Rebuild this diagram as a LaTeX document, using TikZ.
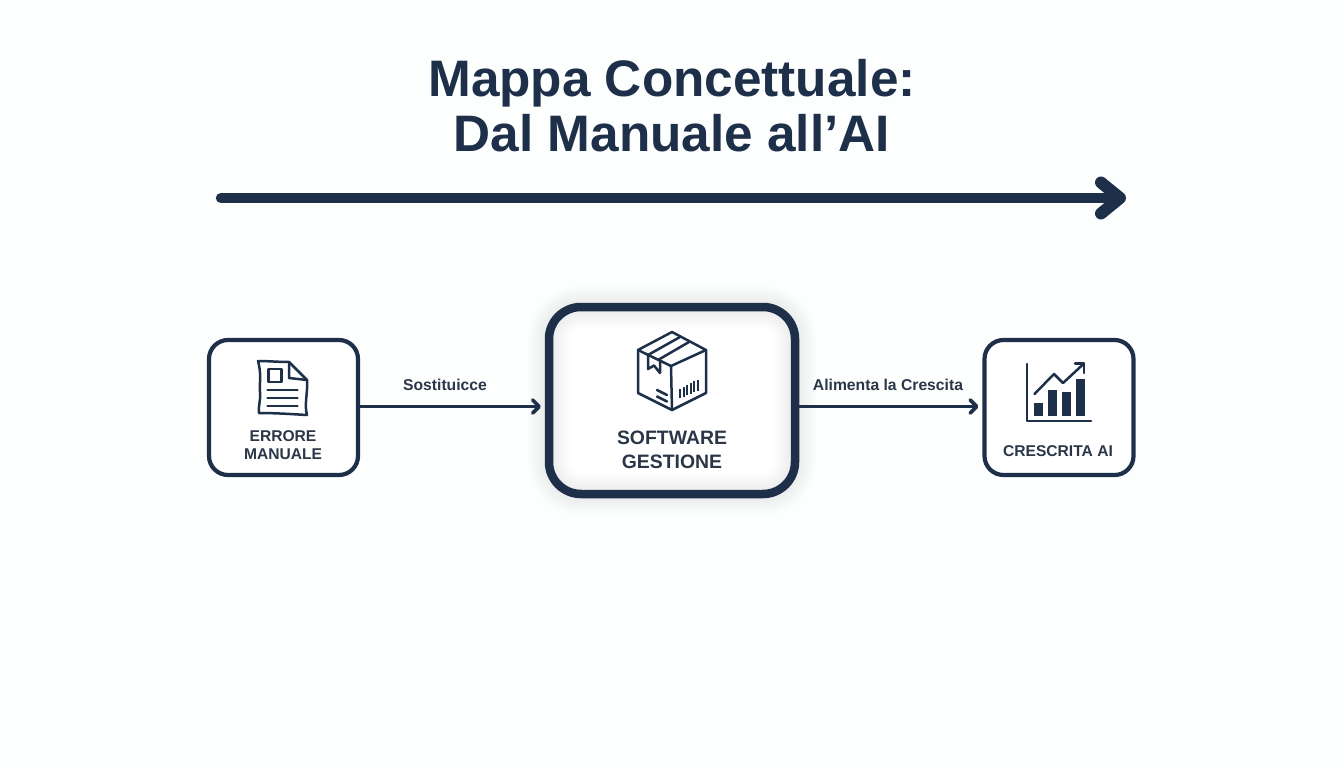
\documentclass[tikz,border=0pt]{standalone}
\usepackage{fontspec}
\setmainfont{Liberation Sans}
\usetikzlibrary{arrows.meta}
\definecolor{navy}{HTML}{1E2F4A}
\definecolor{ink}{HTML}{2B3749}
\definecolor{paper}{HTML}{FDFEFE}
\tikzset{
  sidebox/.style={draw=navy,line width=4.2pt,fill=white,rounded corners=19pt,minimum width=149pt,minimum height=135pt,inner sep=0pt,outer sep=0pt},
  mainbox/.style={draw=navy,line width=8.5pt,fill=white,rounded corners=32pt,minimum width=246pt,minimum height=187pt,inner sep=0pt,outer sep=0pt},
  boxlabel/.style={text=ink,font=\fontsize{15.6}{18}\selectfont\bfseries,align=center,inner sep=0pt},
  mainlabel/.style={text=ink,font=\fontsize{19.4}{24}\selectfont\bfseries,align=center,inner sep=0pt},
  linklabel/.style={text=ink,font=\fontsize{15.7}{18}\selectfont\bfseries,inner sep=0pt},
  titletext/.style={text=navy,font=\fontsize{51.3}{55}\selectfont\bfseries,align=center,inner sep=0pt},
  connector/.style={draw=navy,line width=3pt,-{Straight Barb[length=6.5pt,width=13pt,line width=3.6pt,round]}},
  bigarrow/.style={draw=navy,line width=10.5pt,line cap=round,-{Straight Barb[length=19pt,width=31pt,line width=12pt,round]}},
  iconline/.style={draw=navy,line width=2.5pt,line join=round,line cap=round},
  iconthin/.style={draw=navy,line width=2pt,line cap=butt},
}
\begin{document}
\begin{tikzpicture}[x=1pt,y=-1pt]
\useasboundingbox[fill=paper] (0,0) rectangle (1344,768);
\node[titletext] (title) at (672,105.5) {Mappa Concettuale:\\Dal Manuale all’AI};
\coordinate (arrowstart) at (221,198);
\coordinate (arrowend) at (1126,198);
\draw[bigarrow] (arrowstart) -- (arrowend);
% glow round the main box
\fill[white,rounded corners=32pt] (549,307) rectangle (795,494);
\foreach \w in {10,14,...,42}{
  \draw[navy,opacity=0.007,line width=\w pt,rounded corners=32pt] (549,307) rectangle (795,494);
}
\node[sidebox] (a) at (283.5,407.5) {};
\node[mainbox,fill=none] (b) at (672,400.5) {};
\node[sidebox] (c) at (1059,407.5) {};
\coordinate (ya) at (0,406.5);
\draw[connector] (a.east |- ya) -- ([xshift=-8pt]b.west |- ya);
\draw[connector] (b.east |- ya) -- ([xshift=-6pt]c.west |- ya);
\node[linklabel] (la) at (445,385) {Sostituicce};
\node[linklabel] (lb) at (888,385) {Alimenta la Crescita};
\node[boxlabel] (ta) at (283,445) {ERRORE\\MANUALE};
\node[mainlabel] (tb) at (672,449.5) {SOFTWARE\\GESTIONE};
\node[boxlabel] (tc) at (1058,451) {CRESCRITA AI};
% document icon
\draw[iconline] (258,361) .. controls (262,375) and (259,385) .. (260,392) .. controls (261,400) and (258,406) .. (259,413)
  .. controls (275,413) and (290,414) .. (307,415) .. controls (304,405) and (308,392) .. (307,380) -- (289,362)
  .. controls (278,362) and (268,361) .. (258,361) -- cycle;
\draw[iconline] (289,362) -- (289,378) -- (307,380);
\draw[iconline] (268.5,369) rectangle (281.5,382);
\draw[iconline] (267.5,390) -- (297.5,390);
\draw[iconline] (267.5,398) -- (297.5,398);
\draw[iconline] (267.5,406) -- (297.5,406);
% parcel icon
\draw[iconline] (672,332) -- (706,350) -- (706,393) -- (672,410) -- (638,393) -- (638,350) -- cycle;
\draw[iconline] (638,350) -- (671,366) -- (706,350);
\draw[iconline] (671,366) -- (672,410);
\draw[iconline] (648,355) -- (680,337);
\draw[iconline] (658,360) -- (689,342);
\draw[iconline] (648,355) -- (648,369) -- (654,365.5) -- (660,373) -- (660,360);
\draw[iconline] (657,390) -- (667,395);
\draw[iconline] (657,396.5) -- (667,401.5);
\foreach \x/\yb/\yt in {679.5/398/388.5,683.5/396.5/386.5,687/395/385,690.5/393.5/383,694/392/381,697.5/390.5/380}{
  \draw[iconthin] (\x,\yb) -- (\x,\yt);
}
% chart icon
\draw[iconline] (1027,364) -- (1027,421) -- (1091,421);
\fill[navy] (1034,403) rectangle (1043,416);
\fill[navy] (1048,390) rectangle (1057,416);
\fill[navy] (1062,392) rectangle (1071,416);
\fill[navy] (1076,379) rectangle (1084.5,416);
\draw[iconline] (1034.5,394) -- (1054,374) -- (1063,383) -- (1084,363.5);
\draw[iconline] (1075,363.5) -- (1084,363.5) -- (1084,373);
\end{tikzpicture}
\end{document}
